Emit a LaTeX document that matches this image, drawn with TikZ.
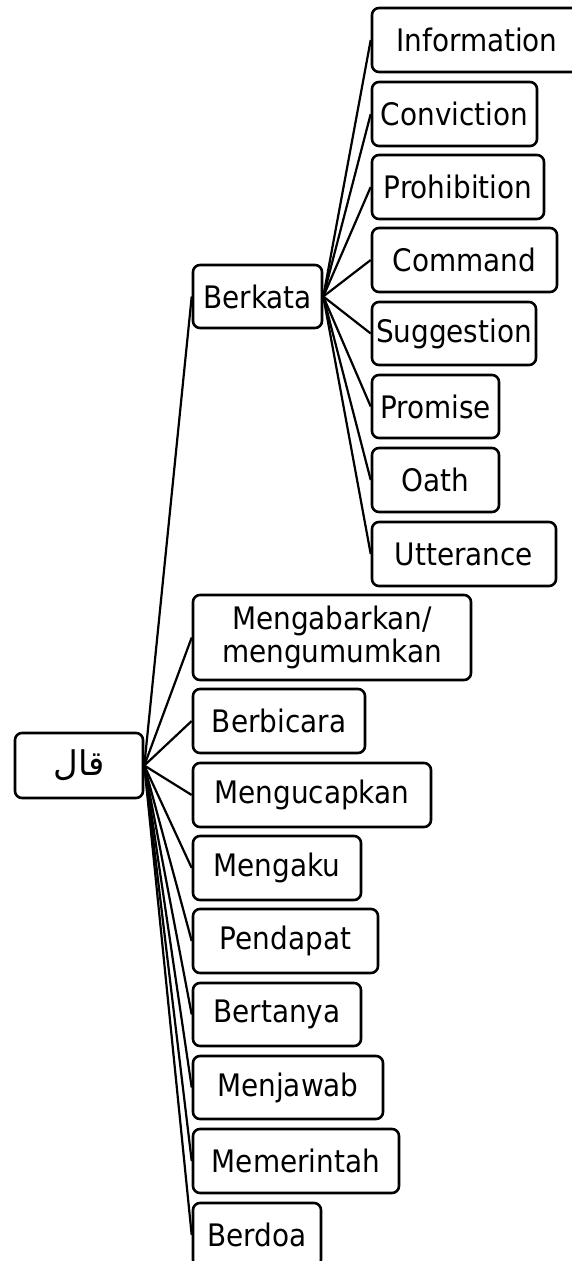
\documentclass[tikz,border=0pt]{standalone}
\usepackage{fontspec}
\setmainfont{DejaVu Sans Condensed}
\newfontfamily\arabicfont[Script=Arabic]{DejaVu Sans}
\TeXXeTstate=1
\begin{document}
\begin{tikzpicture}[x=1pt,y=-1pt,
  box/.style={draw, line width=2.6pt, rounded corners=7pt, minimum height=64pt, inner sep=0pt, align=center, font=\fontsize{31}{33}\selectfont},
  link/.style={line width=2.2pt}]
\useasboundingbox (0,0) rectangle (572,1261);
% root
\node[box, minimum width=128pt, minimum height=65pt, font=\fontsize{34}{36}\selectfont] (qal) at (79,765.5) {\arabicfont\beginR قال\endR};
% level 1
\node[box, minimum width=129pt, minimum height=63pt] (berkata) at (257.5,296.5) {Berkata};
\node[box, minimum width=278pt, minimum height=85pt] (kabar) at (332,637.5) {Mengabarkan/\\mengumumkan};
\node[box, minimum width=172pt] (bicara) at (279,721) {Berbicara};
\node[box, minimum width=238pt] (ucap) at (312,795) {Mengucapkan};
\node[box, minimum width=168pt] (aku) at (277,868) {Mengaku};
\node[box, minimum width=185pt] (dapat) at (285.5,941) {Pendapat};
\node[box, minimum width=168pt, minimum height=63pt] (tanya) at (277,1014.5) {Bertanya};
\node[box, minimum width=190pt, minimum height=63pt] (jawab) at (288,1087.5) {Menjawab};
\node[box, minimum width=206pt] (perintah) at (296,1161) {Memerintah};
\node[box, minimum width=128pt] (doa) at (257,1235) {Berdoa};
% level 2
\node[box, minimum width=210pt] (info) at (477,40) {Information};
\node[box, minimum width=165pt] (conv) at (454.5,114) {Conviction};
\node[box, minimum width=172pt] (proh) at (458,187) {Prohibition};
\node[box, minimum width=185pt] (comm) at (464.5,260) {Command};
\node[box, minimum width=164pt, minimum height=63pt] (sugg) at (454,333.5) {Suggestion};
\node[box, minimum width=127pt, minimum height=63pt] (prom) at (435.5,406.5) {Promise};
\node[box, minimum width=127pt] (oath) at (435.5,480) {Oath};
\node[box, minimum width=184pt] (utt) at (464,554) {Utterance};
% connectors
\foreach \c in {berkata,kabar,bicara,ucap,aku,dapat,tanya,jawab,perintah,doa}
  \draw[link] (qal.east) -- (\c.west);
\foreach \c in {info,conv,proh,comm,sugg,prom,oath,utt}
  \draw[link] (berkata.east) -- (\c.west);
\end{tikzpicture}
\end{document}
